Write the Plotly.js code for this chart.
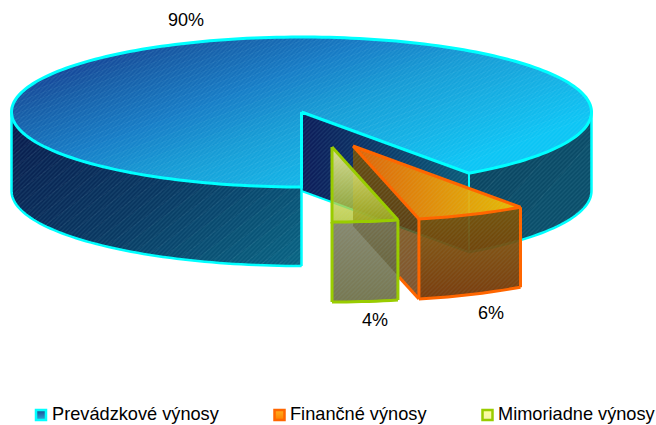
<!DOCTYPE html>
<html><head><meta charset="utf-8">
<script src="https://cdn.plot.ly/plotly-3.0.1.min.js"></script>
<style>html,body{margin:0;padding:0;background:#fff}#c{width:656px;height:425px}</style>
</head><body><div id="c"></div>
<script>
const categories = ["Prevádzkové výnosy", "Finančné výnosy", "Mimoriadne výnosy"];
const values = [90.2, 6.15, 3.65];
const outlineColors = ["#00ffff", "#ff6600", "#99cc00"];

const RX = 290, RY = 75;
const total = values.reduce((a, b) => a + b, 0);
const sweep = values.map(v => v / total * 360);
const rad = d => d * Math.PI / 180;
const pt = (c, a, dy = 0) => [c[0] + RX * Math.sin(rad(a)), c[1] - RY * Math.cos(rad(a)) + dy];
function arc(c, a0, a1, dy = 0) {
  const n = Math.max(2, Math.ceil(Math.abs(a1 - a0) / 1.5)), out = [];
  for (let i = 0; i <= n; i++) out.push(pt(c, a0 + (a1 - a0) * i / n, dy));
  return out;
}
const traces = [];
const hex = s => [1, 3, 5].map(i => parseInt(s.substr(i, 2), 16));
function ramp(stops, t) {
  for (let i = 1; i < stops.length; i++) {
    if (t <= stops[i][0] || i === stops.length - 1) {
      const [t0, c0] = stops[i - 1], [t1, c1] = stops[i];
      const k = Math.min(1, Math.max(0, (t - t0) / (t1 - t0)));
      const a = hex(c0), b = hex(c1);
      return `rgb(${a.map((v, j) => Math.round(v + (b[j] - v) * k)).join(",")})`;
    }
  }
}
function clipHalf(poly, nx, ny, lim, keepAbove) {
  const f = p => (p[0] * nx + p[1] * ny - lim) * (keepAbove ? 1 : -1), out = [];
  for (let i = 0; i < poly.length; i++) {
    const a = poly[i], b = poly[(i + 1) % poly.length], fa = f(a), fb = f(b);
    if (fa >= 0) out.push(a);
    if ((fa >= 0) !== (fb >= 0)) { const k = fa / (fa - fb); out.push([a[0] + (b[0] - a[0]) * k, a[1] + (b[1] - a[1]) * k]); }
  }
  return out;
}
function addPoly(poly, extra) {
  const e = Object.assign({}, extra);
  e.line = Object.assign({ simplify: false }, e.line);
  traces.push(Object.assign({
    type: "scatter", mode: "lines", hoverinfo: "skip", showlegend: false,
    x: poly.map(p => p[0]).concat([poly[0][0]]), y: poly.map(p => p[1]).concat([poly[0][1]]),
    fill: "toself"
  }, e));
}
function hatch(poly, alpha) {
  addPoly(poly, { line: { width: 0 }, fillcolor: "rgba(0,0,0,0)",
    fillpattern: { shape: "/", size: 3, solidity: 0.4, fgcolor: `rgba(150,230,255,${alpha})`, bgcolor: "rgba(0,0,0,0)" } });
}
function bandFace(poly, dir, range, stops, bands, alpha) {
  const L = Math.hypot(dir[0], dir[1]), nx = dir[0] / L, ny = dir[1] / L;
  for (let i = 0; i < bands; i++) {
    const s0 = range[0] + (range[1] - range[0]) * i / bands, s1 = range[0] + (range[1] - range[0]) * (i + 1) / bands;
    let q = clipHalf(poly, nx, ny, i === 0 ? -1e6 : s0, true);
    q = clipHalf(q, nx, ny, i === bands - 1 ? 1e6 : s1, false);
    if (q.length < 3) continue;
    const col = ramp(stops, (i + 0.5) / bands);
    addPoly(q, { line: { width: 0.7, color: col }, fillcolor: col });
  }
  hatch(poly, alpha);
}
function gradFace(poly, type, scale, alpha) {
  addPoly(poly, { line: { width: 0 }, fillgradient: { type, colorscale: scale } });
  hatch(poly, alpha);
}
function stroke(pts, color, width) {
  traces.push({ type: "scatter", mode: "lines", hoverinfo: "skip", showlegend: false,
    x: pts.map(p => p[0]), y: pts.map(p => p[1]), line: { color, width, shape: "linear", simplify: false } });
}
const DIR = [0.35, 0.94];

// main slice
const C0 = [301.5, 112], D0 = 79;
const startA = 180, endA = 180 + sweep[0];
const a144 = endA - 360;
const cy = outlineColors[0];
const rightWall = arc(C0, 90, a144).concat(arc(C0, a144, 90, D0));
bandFace(rightWall, [0.75, 0.66], [420, 560], [[0, "#0a3e5a"], [1, "#0a4e6a"]], 6, 0.1);
const leftWall = arc(C0, 180, 270).concat(arc(C0, 270, 180, D0));
bandFace(leftWall, [0.6, 0.8], [100, 400], [[0, "#08184a"], [0.5, "#083660"], [1, "#086684"]], 28, 0.1);
const mainTop = [C0].concat(arc(C0, startA, endA));
bandFace(mainTop, DIR, [60, 320], [[0, "#14308c"], [0.2, "#165aa4"], [0.42, "#167cc6"], [0.6, "#169ad4"], [0.8, "#14b0e4"], [1, "#0cc6f6"]], 50, 0.1);
const cutFace = [C0, pt(C0, a144), pt(C0, a144, D0), [C0[0], C0[1] + D0]];
gradFace(cutFace, "horizontal", [[0, "#0c1a58"], [1, "#0a5a78"]], 0.1);
stroke(arc(C0, 180, 270, D0), cy, 2.5);
stroke([pt(C0, 270), pt(C0, 270, D0)], cy, 2.5);
stroke([pt(C0, 180), pt(C0, 180, D0)], cy, 2.5);
stroke(arc(C0, a144, 90, D0), cy, 2.5);
stroke([pt(C0, 90), pt(C0, 90, D0)], cy, 2.5);
stroke([pt(C0, a144), pt(C0, a144, D0)], cy, 2);
stroke([[C0[0], C0[1] + D0], pt(C0, a144, D0)], cy, 2);
stroke(mainTop.concat([C0]), cy, 3);

// second slice
const C1 = [353, 146], D1 = 80;
const b0 = a144, b1 = a144 + sweep[1];
const o = outlineColors[1];
const oInner = [C1, pt(C1, b1), pt(C1, b1, D1), [C1[0], C1[1] + D1]];
gradFace(oInner, "vertical", [[0, "rgba(100,45,0,0.82)"], [1, "rgba(120,82,0,0.85)"]], 0.1);
const oFront = arc(C1, b0, b1).concat(arc(C1, b1, b0, D1));
gradFace(oFront, "vertical", [[0, "rgba(115,50,0,0.95)"], [1, "rgba(125,85,5,0.92)"]], 0.08);
const oTop = [C1].concat(arc(C1, b0, b1));
gradFace(oTop, "horizontal", [[0, "rgba(245,105,0,0.9)"], [1, "rgba(240,195,0,0.95)"]], 0.08);
stroke(arc(C1, b1, b0, D1), o, 3);
stroke([pt(C1, b0), pt(C1, b0, D1)], o, 3);
stroke([pt(C1, b1), pt(C1, b1, D1)], o, 3);
const oBase = [C1[0], C1[1] + D1], oEnd = pt(C1, b1, D1);
stroke([[oBase[0] + (oEnd[0] - oBase[0]) * 0.7, oBase[1] + (oEnd[1] - oBase[1]) * 0.7], oEnd], o, 3);
stroke(oTop.concat([C1]), o, 3);

// third slice
const C2 = [332, 147], D2 = 80;
const c0 = b1, c1 = 180;
const g = outlineColors[2];
const gFront = arc(C2, c0, c1).concat(arc(C2, c1, c0, D2));
gradFace(gFront, "vertical", [[0, "rgba(95,95,50,0.85)"], [1, "rgba(115,115,85,0.85)"]], 0.08);
const gTop = [C2].concat(arc(C2, c0, c1));
gradFace(gTop, "vertical", [[0, "rgba(170,190,30,0.75)"], [1, "rgba(255,255,160,0.85)"]], 0.06);
stroke(arc(C2, c0, c1, D2), g, 3);
stroke([pt(C2, c0), pt(C2, c0, D2)], g, 3);
stroke([pt(C2, c1), pt(C2, c1, D2)], g, 3);
stroke(gTop.concat([C2]), g, 3);

// percentage labels
const labelX = [186, 491, 375], labelY = [21, 314, 321];
traces.push({ type: "scatter", mode: "text", hoverinfo: "skip", showlegend: false,
  x: labelX, y: labelY, text: values.map(v => Math.round(v / total * 100) + "%"),
  textposition: "middle center", textfont: { family: "Liberation Sans, Arial, sans-serif", size: 18, color: "#000" } });

// legend row
const legendX = [41, 279.5, 487.5], legendTextX = [52, 290, 498], legendY = 415;
const swatchFill = ["#1a4a90", "#ffb020", "#ffff99"], swatchEnd = ["#30a8d8", "#ff8000", "#f4f4b0"];
categories.forEach((c, i) => {
  traces.push({ type: "scatter", mode: "markers", hoverinfo: "skip", showlegend: false,
    x: [legendX[i]], y: [legendY],
    marker: { symbol: "square", size: 10, color: swatchFill[i], gradient: { type: "vertical", color: swatchEnd[i] },
      line: { color: outlineColors[i], width: 2.5 } } });
  traces.push({ type: "scatter", mode: "text", hoverinfo: "skip", showlegend: false,
    x: [legendTextX[i]], y: [legendY], text: [c], textposition: "middle right",
    textfont: { family: "Liberation Sans, Arial, sans-serif", size: 18.2, color: "#000" } });
});

Plotly.newPlot("c", traces, {
  width: 656, height: 425, margin: { l: 0, r: 0, t: 0, b: 0 }, showlegend: false,
  paper_bgcolor: "#fff", plot_bgcolor: "#fff",
  xaxis: { range: [0, 656], visible: false, fixedrange: true },
  yaxis: { range: [425, 0], visible: false, fixedrange: true }
}, { displayModeBar: false, staticPlot: true });
</script></body></html>
